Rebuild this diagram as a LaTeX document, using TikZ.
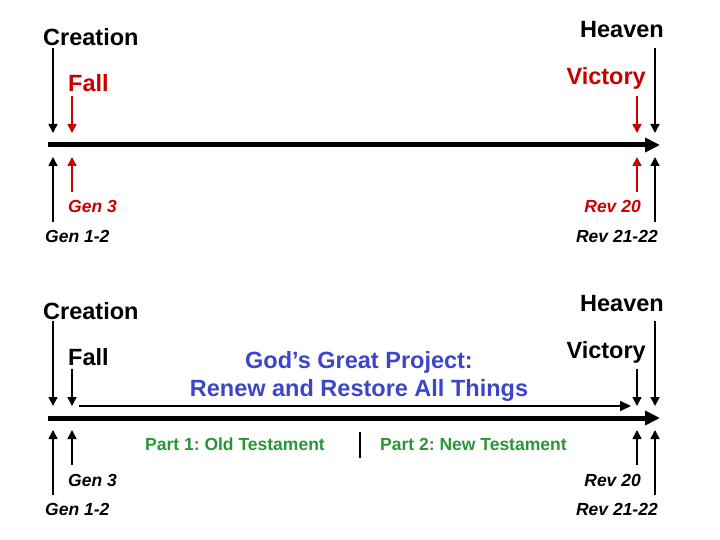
\documentclass[tikz,border=0pt]{standalone}
\usepackage{fontspec}
\setmainfont{Liberation Sans}
\usetikzlibrary{arrows.meta}
\definecolor{rouge}{RGB}{200,0,0}
\definecolor{bleu}{RGB}{60,70,200}
\definecolor{vert}{RGB}{40,150,55}
\frenchspacing
\newcommand{\fleche}[2]{\draw[pointe] (#1) -- (#2)}
\newcommand{\axe}[2]{\draw[epais,-{Triangle[width=14pt,length=15pt]}] (#1) -- (#2)}
\tikzset{
	epais/.style={line width=5pt},
	pointe/.style={line width=1.6pt,-{Triangle[width=9pt,length=9pt]}},
	grand/.style={inner sep=0,font=\fontsize{23.5}{26}\selectfont\bfseries},
	petit/.style={inner sep=0,font=\fontsize{17.5}{20}\selectfont\bfseries\itshape},
	moyen/.style={inner sep=0,font=\fontsize{17.5}{20}\selectfont\bfseries}
}

\begin{document}
\begin{tikzpicture}[x=1pt,y=-1pt]
	\useasboundingbox (0,0) rectangle (720,540);
	% en haut
	\coordinate (d1) at (48,145);
	\coordinate (f1) at (660,145);
	\axe{d1}{f1};
	\node[grand,anchor=base west] (creation1) at (43,46) {Creation};
	\node[grand,anchor=base west,rouge] (chute1) at (68,92) {Fall};
	\node[grand,anchor=base east] (ciel1) at (664,38) {Heaven};
	\node[grand,anchor=base east,rouge] (victoire1) at (646,85) {Victory};
	\node[petit,anchor=base west,rouge] (gen3a) at (68,213) {Gen 3};
	\node[petit,anchor=base west] (gen12a) at (45,242) {Gen 1-2};
	\node[petit,anchor=base east,rouge] (rev20a) at (641,213) {Rev 20};
	\node[petit,anchor=base east] (rev21a) at (658,242) {Rev 21-22};
	\coordinate (c1h) at (53,48);  \coordinate (c1b) at (53,133);
	\coordinate (ch1h) at (72,96); \coordinate (ch1b) at (72,133);
	\coordinate (v1h) at (637,96); \coordinate (v1b) at (637,133);
	\coordinate (h1h) at (655,48); \coordinate (h1b) at (655,133);
	\coordinate (g3h) at (72,157); \coordinate (g3b) at (72,192);
	\coordinate (g1h) at (53,157); \coordinate (g1b) at (53,222);
	\coordinate (r20h) at (637,157); \coordinate (r20b) at (637,192);
	\coordinate (r21h) at (655,157); \coordinate (r21b) at (655,222);
	\fleche{c1h}{c1b};
	\fleche{h1h}{h1b};
	\fleche{g1b}{g1h};
	\fleche{r21b}{r21h};
	\begin{scope}[rouge]
		\fleche{ch1h}{ch1b};
		\fleche{v1h}{v1b};
		\fleche{g3b}{g3h};
		\fleche{r20b}{r20h};
	\end{scope}
	% en bas
	\coordinate (d2) at (48,418);
	\coordinate (f2) at (660,418);
	\axe{d2}{f2};
	\node[grand,anchor=base west] (creation2) at (43,319) {Creation};
	\node[grand,anchor=base west] (chute2) at (68,365) {Fall};
	\node[grand,anchor=base east] (ciel2) at (664,311) {Heaven};
	\node[grand,anchor=base east] (victoire2) at (646,358) {Victory};
	\node[grand,bleu,anchor=base] (projet1) at (359,368) {God’s Great Project:};
	\node[grand,bleu,anchor=base] (projet2) at (359,396) {Renew and Restore All Things};
	\node[moyen,vert,anchor=base west] (ancien) at (145,450) {Part 1: Old Testament};
	\node[moyen,vert,anchor=base west] (nouveau) at (380,450) {Part 2: New Testament};
	\node[petit,anchor=base west] (gen3b) at (68,486) {Gen 3};
	\node[petit,anchor=base west] (gen12b) at (45,515) {Gen 1-2};
	\node[petit,anchor=base east] (rev20b) at (641,486) {Rev 20};
	\node[petit,anchor=base east] (rev21b) at (658,515) {Rev 21-22};
	\coordinate (c2h) at (53,321);  \coordinate (c2b) at (53,406);
	\coordinate (ch2h) at (72,369); \coordinate (ch2b) at (72,406);
	\coordinate (v2h) at (637,369); \coordinate (v2b) at (637,406);
	\coordinate (h2h) at (655,321); \coordinate (h2b) at (655,406);
	\coordinate (g3c) at (72,430); \coordinate (g3d) at (72,465);
	\coordinate (g1c) at (53,430); \coordinate (g1d) at (53,495);
	\coordinate (r20c) at (637,430); \coordinate (r20d) at (637,465);
	\coordinate (r21c) at (655,430); \coordinate (r21d) at (655,495);
	\coordinate (p1) at (79,406); \coordinate (p2) at (631,406);
	\coordinate (s1) at (360,432); \coordinate (s2) at (360,458);
	\fleche{c2h}{c2b};
	\fleche{ch2h}{ch2b};
	\fleche{v2h}{v2b};
	\fleche{h2h}{h2b};
	\fleche{g3d}{g3c};
	\fleche{g1d}{g1c};
	\fleche{r20d}{r20c};
	\fleche{r21d}{r21c};
	\draw[line width=2pt,-{Triangle[width=10pt,length=11pt]}] (p1) -- (p2);
	\draw[line width=1.5pt] (s1) -- (s2);
\end{tikzpicture}
\end{document}
